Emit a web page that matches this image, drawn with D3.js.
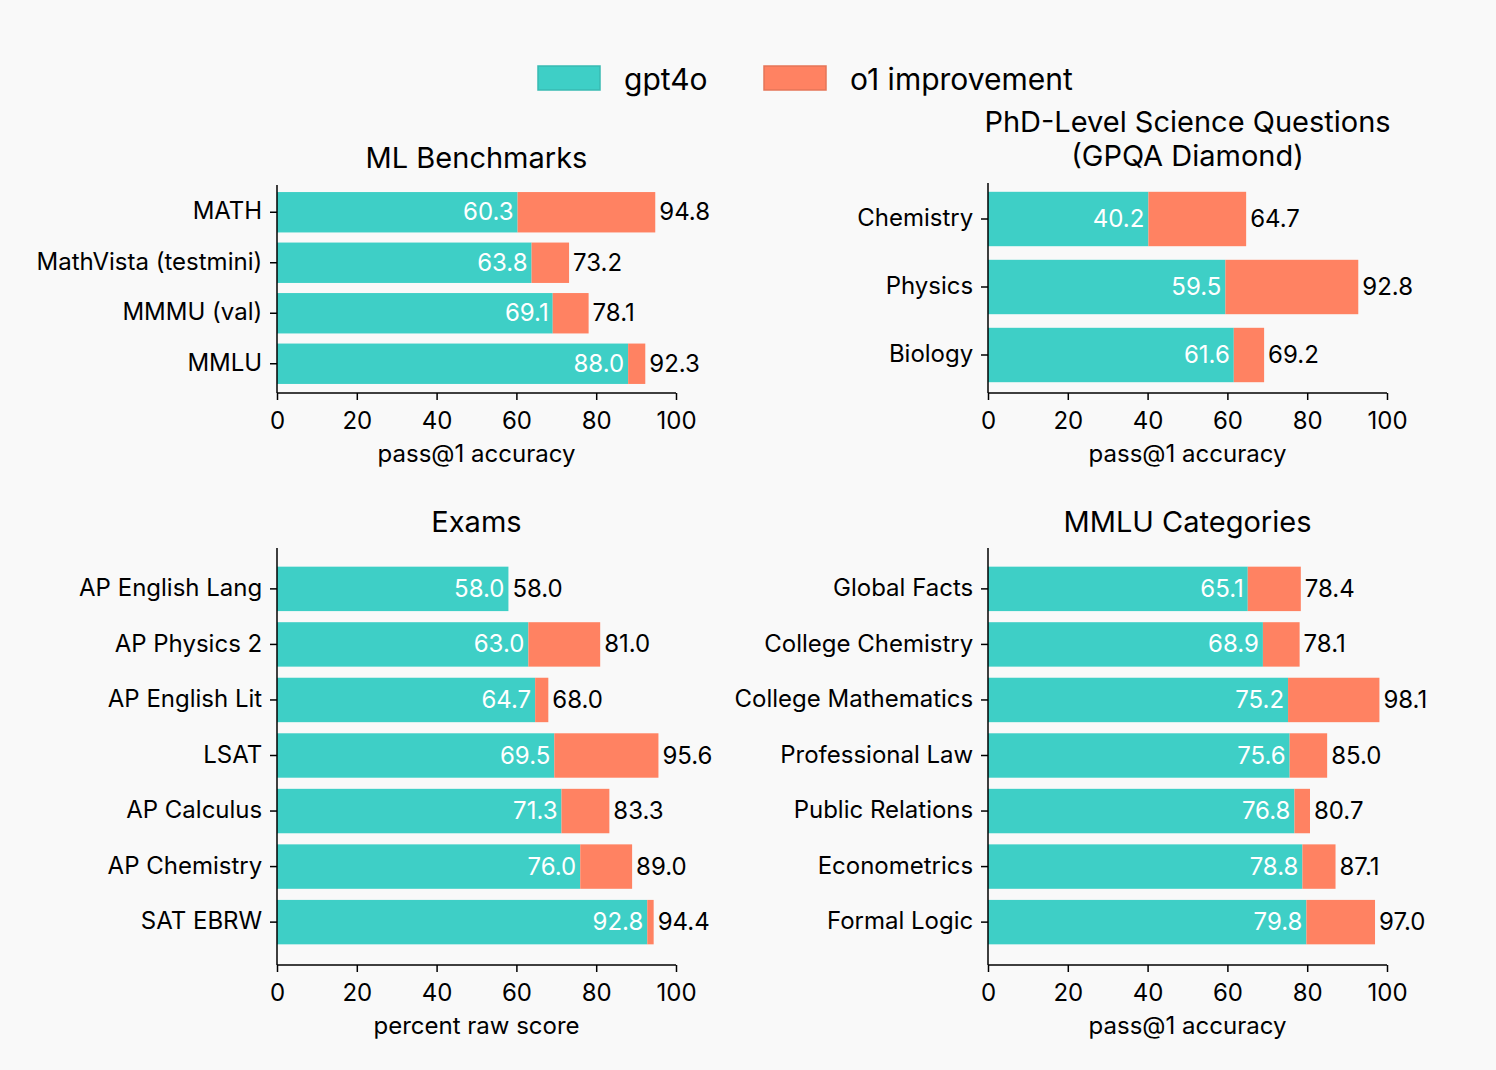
<!DOCTYPE html><html><head><meta charset="utf-8">
<script src="https://cdn.jsdelivr.net/npm/d3@7"></script>
<style>body{margin:0;background:#f9f9f9}text{font-family:Inter,"Open Sans",sans-serif}</style></head><body>
<svg id="c" width="1496" height="1070"></svg>
<script>
const mlCats=["MATH","MathVista (testmini)","MMMU (val)","MMLU"];
const mlBase=[60.3,63.8,69.1,88.0];
const mlTotal=[94.8,73.2,78.1,92.3];
const gpCats=["Chemistry","Physics","Biology"];
const gpBase=[40.2,59.5,61.6];
const gpTotal=[64.7,92.8,69.2];
const exCats=["AP English Lang","AP Physics 2","AP English Lit","LSAT","AP Calculus","AP Chemistry","SAT EBRW"];
const exBase=[58.0,63.0,64.7,69.5,71.3,76.0,92.8];
const exTotal=[58.0,81.0,68.0,95.6,83.3,89.0,94.4];
const mmCats=["Global Facts","College Chemistry","College Mathematics","Professional Law","Public Relations","Econometrics","Formal Logic"];
const mmBase=[65.1,68.9,75.2,75.6,76.8,78.8,79.8];
const mmTotal=[78.4,78.1,98.1,85.0,80.7,87.1,97.0];
const xTicks=[0,20,40,60,80,100];
const TEAL="#3ecfc6",CORAL="#ff8262";
const svg=d3.select("#c");
svg.append("rect").attr("width",1496).attr("height",1070).attr("fill","#f9f9f9");
// legend
const lg=[["gpt4o",TEAL,538],["o1 improvement",CORAL,764]];
lg.forEach(([t,c,x])=>{svg.append("rect").attr("x",x).attr("y",66).attr("width",62).attr("height",24).attr("fill",c).attr("stroke",d3.color(c).darker(0.3)).attr("stroke-width",1.5);
svg.append("text").attr("x",x+86).attr("y",90).attr("font-size",30).text(t);});
function panel(cats,base,total,x0,x1,r0,r1,title,titleY,xlabel,po){
  const g=svg.append("g");
  const x=d3.scaleLinear().domain([0,100]).range([x0,x1]);
  const y=d3.scaleBand().domain(cats).range([r0,r1]).paddingInner(0.2).paddingOuter(po);
  cats.forEach((c,i)=>{
    g.append("rect").attr("x",x(0)).attr("y",y(c)).attr("width",x(base[i])-x(0)).attr("height",y.bandwidth()).attr("fill",TEAL);
    g.append("rect").attr("x",x(base[i])).attr("y",y(c)).attr("width",x(total[i])-x(base[i])).attr("height",y.bandwidth()).attr("fill",CORAL);
    const cy=y(c)+y.bandwidth()/2+8;
    g.append("text").attr("x",x(base[i])-4).attr("y",cy).attr("text-anchor","end").attr("fill","#fff").attr("font-size",24).text(base[i].toFixed(1));
    g.append("text").attr("x",x(total[i])+4).attr("y",cy).attr("font-size",24).text(total[i].toFixed(1));
  });
  const ax=g.append("g").attr("transform",`translate(0,${r1+4})`).call(d3.axisBottom(x).tickValues(xTicks).tickSize(7).tickSizeOuter(0));
  ax.selectAll("text").attr("font-size",24).attr("dy","1.1em").attr("fill","#000");
  const ay=g.append("g").attr("transform",`translate(${x0},0)`).call(d3.axisLeft(y).tickSize(7).tickSizeOuter(0));
  ay.select(".domain").attr("d",`M0,${r0-2}V${r1+4}`);
  ax.select(".domain").attr("d",`M${x0},0H${x1}`);
  ay.selectAll("text").attr("font-size",24).attr("dx","-0.2em").attr("dy","0.3em").attr("fill","#000");
  g.selectAll(".domain,.tick line").attr("stroke","#000").attr("stroke-width",1.5);
  const cx=(x0+x1)/2;
  title.forEach((t,i)=>g.append("text").attr("x",cx).attr("y",titleY+i*34).attr("text-anchor","middle").attr("font-size",29).text(t));
  g.append("text").attr("x",cx).attr("y",r1+73).attr("text-anchor","middle").attr("font-size",24).text(xlabel);
}
panel(mlCats,mlBase,mlTotal,277,676,187,389,["ML Benchmarks"],168,"pass@1 accuracy",0.1);
panel(gpCats,gpBase,gpTotal,988,1387,185,389,["PhD-Level Science Questions","(GPQA Diamond)"],132,"pass@1 accuracy",0.1);
panel(exCats,exBase,exTotal,277,676,550,961,["Exams"],532,"percent raw score",0.3);
panel(mmCats,mmBase,mmTotal,988,1387,550,961,["MMLU Categories"],532,"pass@1 accuracy",0.3);
</script></body></html>
